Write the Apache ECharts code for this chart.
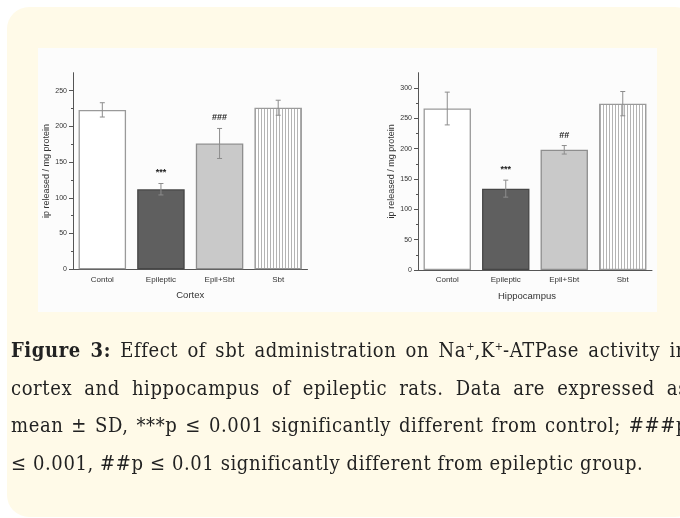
<!DOCTYPE html>
<html>
<head>
<meta charset="utf-8">
<script src="https://cdn.jsdelivr.net/npm/echarts@6/dist/echarts.min.js"></script>
<style>
html,body{margin:0;padding:0;width:680px;height:518px;overflow:hidden;background:#ffffff;}
#bg{position:absolute;left:7px;top:7px;width:690px;height:510px;background:#fffae8;border-radius:22px;}
#panel{position:absolute;left:38px;top:48px;width:619px;height:264px;background:#fcfcfc;}
#chart{position:absolute;left:0;top:0;width:680px;height:518px;}
#cap{position:absolute;left:11px;top:332px;width:677px;font-family:'DejaVu Serif Condensed','Liberation Serif',serif;font-size:20px;letter-spacing:0.6px;line-height:37.5px;color:#222;white-space:nowrap;}
#cap .j{text-align:justify;text-align-last:justify;}
#cap .s{font-size:11px;vertical-align:7px;line-height:0;letter-spacing:0;}
</style>
</head>
<body>
<div id="bg"></div>
<div id="panel"></div>
<div id="chart"></div>
<div id="cap">
<div class="j"><b>Figure 3:</b> Effect of sbt administration on Na<span class="s">+</span>,K<span class="s">+</span>-ATPase activity in</div>
<div class="j">cortex and hippocampus of epileptic rats. Data are expressed as</div>
<div class="j">mean ± SD, ***p ≤ 0.001 significantly different from control; ###p</div>
<div>≤ 0.001, ##p ≤ 0.01 significantly different from epileptic group.</div>
</div>
<script>
const categories = ['Contol', 'Epileptic', 'Epil+Sbt', 'Sbt'];
const cortexMean = [223, 112, 176, 226];
const cortexSD = [10, 8, 21, 10.5];
const cortexMarks = ['', '***', '###', ''];
const hippoMean = [266, 134, 198, 274];
const hippoSD = [27, 14, 7, 20];
const hippoMarks = ['', '***', '##', ''];
const cortexTicks = [0, 50, 100, 150, 200, 250];
const cortexMinor = [25, 75, 125, 175, 225];
const cortexMax = 275;
const hippoTicks = [0, 50, 100, 150, 200, 250, 300];
const hippoMinor = [25, 75, 125, 175, 225, 275];
const hippoMax = 325;
const yTitle = 'ip released / mg protein';

// vertical-line hatch for the last bar
const pc = document.createElement('canvas');
pc.width = 3; pc.height = 8;
const pctx = pc.getContext('2d');
pctx.fillStyle = '#ffffff'; pctx.fillRect(0, 0, 3, 8);
pctx.fillStyle = '#b4b4b4'; pctx.fillRect(0, 0, 1, 8);

const barStyles = [
  {color: '#ffffff', borderColor: '#9a9a9a', borderWidth: 1.3},
  {color: '#5f5f5f', borderColor: '#464646', borderWidth: 1.3},
  {color: '#c9c9c9', borderColor: '#8e8e8e', borderWidth: 1.3},
  {color: {image: pc, repeat: 'repeat'}, borderColor: '#9a9a9a', borderWidth: 1.3}
];

const axisColor = '#555555';
const labelColor = '#333333';
const font = "'Liberation Sans', Arial, sans-serif";

function xAxes(gridIndex, name, namePad) {
  return [
    {
      type: 'category', gridIndex, data: categories, position: 'bottom',
      boundaryGap: true,
      axisLine: {lineStyle: {color: axisColor, width: 1}},
      axisTick: {alignWithLabel: true, length: 4, lineStyle: {color: axisColor}},
      axisLabel: {fontSize: 8, color: labelColor, margin: 6, fontFamily: font},
      name, nameLocation: 'middle', nameGap: 21,
      nameTextStyle: {fontSize: 9.5, color: '#333', fontFamily: font, padding: namePad}
    },
    {
      type: 'category', gridIndex, data: categories, position: 'bottom', offset: 0,
      boundaryGap: true,
      axisLine: {show: false},
      axisTick: {alignWithLabel: false, length: 2, lineStyle: {color: axisColor}},
      axisLabel: {show: false}
    }
  ];
}

function yAxes(gridIndex, max, ticks, minor) {
  return [
    {
      type: 'value', gridIndex, min: 0, max: max, position: 'left',
      splitLine: {show: false},
      axisLine: {show: true, lineStyle: {color: axisColor, width: 1}},
      axisTick: {show: true, length: 4, customValues: ticks, lineStyle: {color: axisColor}},
      axisLabel: {customValues: ticks, fontSize: 7, color: labelColor, margin: 6, fontFamily: font},
      name: yTitle, nameLocation: 'middle', nameGap: 22,
      nameTextStyle: {fontSize: 9, color: '#333', fontFamily: font}
    },
    {
      type: 'value', gridIndex, min: 0, max: max, position: 'left', offset: 0,
      splitLine: {show: false},
      axisLine: {show: false},
      axisTick: {show: true, length: 2, customValues: minor, lineStyle: {color: axisColor}},
      axisLabel: {show: false}
    }
  ];
}

function seriesFor(xi, yi, mean, sd, marks) {
  const barData = mean.map((v, i) => ({value: v, itemStyle: barStyles[i]}));
  const errData = mean.map((v, i) => [i, v + sd[i], v - sd[i]]);
  return [
    {
      type: 'bar', xAxisIndex: xi, yAxisIndex: yi, data: barData,
      barCategoryGap: '19%', silent: true
    },
    {
      type: 'custom', xAxisIndex: xi, yAxisIndex: yi, data: errData, silent: true, z: 5,
      renderItem: function (params, api) {
        const hi = api.coord([api.value(0), api.value(1)]);
        const lo = api.coord([api.value(0), api.value(2)]);
        const cap = 2.5;
        const st = {stroke: '#8c8c8c', lineWidth: 1};
        const children = [
          {type: 'line', shape: {x1: hi[0], y1: hi[1], x2: lo[0], y2: lo[1]}, style: st},
          {type: 'line', shape: {x1: hi[0] - cap, y1: hi[1], x2: hi[0] + cap, y2: hi[1]}, style: st},
          {type: 'line', shape: {x1: lo[0] - cap, y1: lo[1], x2: lo[0] + cap, y2: lo[1]}, style: st}
        ];
        const m = marks[params.dataIndex];
        if (m) {
          children.push({
            type: 'text', x: hi[0], y: hi[1] - 10.5,
            style: {text: m, fill: '#222', font: 'bold 9px ' + font, align: 'center', verticalAlign: 'middle'}
          });
        }
        return {type: 'group', children};
      }
    }
  ];
}

const chart = echarts.init(document.getElementById('chart'), null, {renderer: 'canvas'});
chart.setOption({
  backgroundColor: 'transparent',
  animation: false,
  grid: [
    {left: 73, top: 72.7, width: 234.5, height: 196.6},
    {left: 418, top: 72.7, width: 234, height: 197.3}
  ],
  xAxis: [].concat(xAxes(0, 'Cortex', [0, 0, 0, 0]), xAxes(1, 'Hippocampus', [0, 16, 0, 0])),
  yAxis: [].concat(yAxes(0, cortexMax, cortexTicks, cortexMinor), yAxes(1, hippoMax, hippoTicks, hippoMinor)),
  series: [].concat(
    seriesFor(0, 0, cortexMean, cortexSD, cortexMarks),
    seriesFor(2, 2, hippoMean, hippoSD, hippoMarks)
  )
});
</script>
</body>
</html>
